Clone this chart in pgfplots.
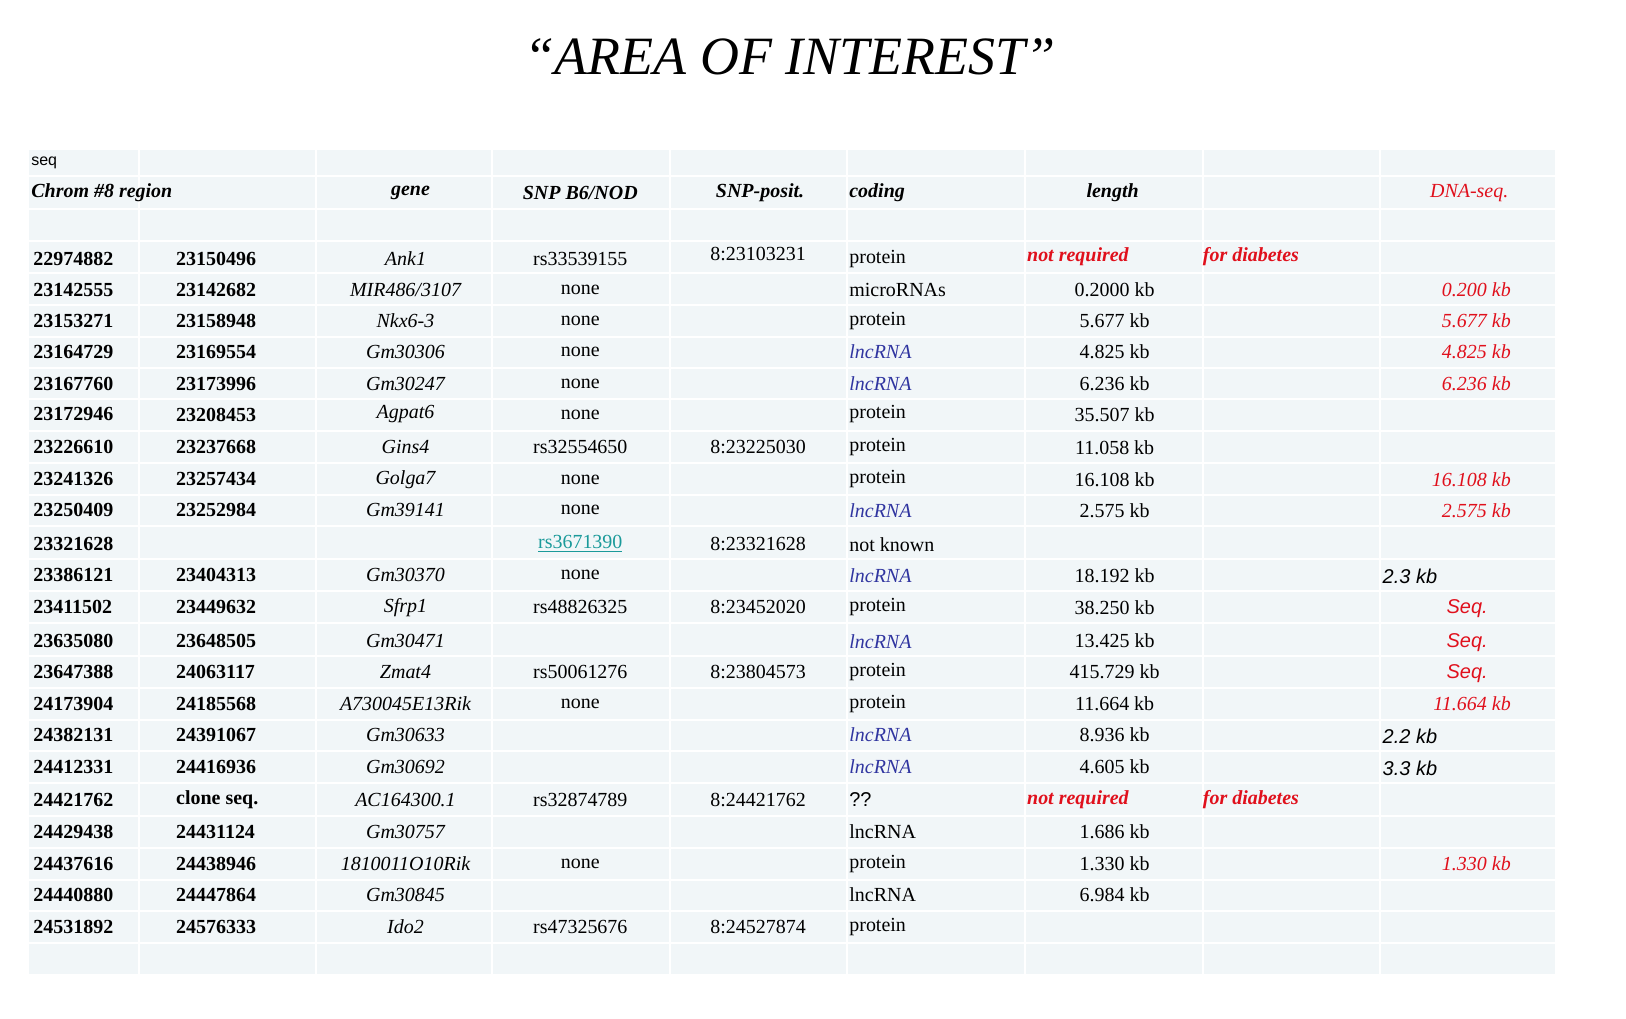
\documentclass[border=0pt]{standalone}
\usepackage{pgfplots}
\pgfplotsset{compat=1.18}
\usepackage{fontspec}
\setmainfont{Liberation Serif}
\newfontfamily\sans{Liberation Sans}
\definecolor{cell}{HTML}{F1F6F8}
\definecolor{rd}{HTML}{E0101C}
\definecolor{bl}{HTML}{3035A0}
\definecolor{tl}{HTML}{1A9A9A}
\newcommand{\T}[3]{\node[anchor=#1,inner sep=0pt] at (axis cs:#2) {#3};}
\newcommand{\C}[2]{\fill[cell] (axis cs:#1,{1020-150}) rectangle (axis cs:#2,{1020-975});}
\newcommand{\row}[9]{%
\T{west}{32,{1020-#1}}{\bfseries #2}
\T{west}{175,{1020-#1}}{\bfseries #3}
\T{center}{405,{1020-#1}}{\itshape #4}
\T{center}{580,{1020-#1}}{#5}
\T{center}{758,{1020-#1}}{#6}
\T{west}{849,{1020-#1}}{#7}
\T{center}{1115,{1020-#1}}{#8}
\T{east}{1512,{1020-#1}}{\itshape\color{rd}#9}
}
\begin{document}
\begin{tikzpicture}
\begin{axis}[scale only axis,width=813pt,height=510pt,xmin=0,xmax=1626,ymin=0,ymax=1020,hide axis,clip=false,
  every node/.append style={font=\fontsize{12}{14}\selectfont}]
\addplot[draw=none] coordinates {(0,0) (1626,1020)};
\C{28}{137}\C{139}{314}\C{316}{491}\C{493}{669}\C{671}{846}\C{848}{1024}\C{1026}{1202}\C{1204}{1380}\C{1382}{1556}
\pgfplotsinvokeforeach{176,209,241,273,305,337,368,400,432,464,496,527,560,592,624,657,689,721,752,784,817,849,881,912,944}{
 \draw[white,line width=1pt] (axis cs:0,{1020-#1}) -- (axis cs:1626,{1020-#1});
}
\node[font=\fontsize{27}{30}\selectfont] at (axis cs:790,{1020-57}) {\itshape “AREA OF INTEREST”};
\T{west}{30,{1020-163}}{\sans\fontsize{8}{9}\selectfont seq}
\T{west}{30,{1020-193}}{\bfseries\itshape Chrom \#8 region}
\T{center}{410,{1020-193}}{\bfseries\itshape gene}
\T{center}{580,{1020-193}}{\bfseries\itshape SNP B6/NOD}
\T{center}{760,{1020-193}}{\bfseries\itshape SNP-posit.}
\T{west}{849,{1020-193}}{\bfseries\itshape coding}
\T{center}{1113,{1020-193}}{\bfseries\itshape length}
\T{center}{1470,{1020-193}}{\itshape\color{rd}DNA-seq.}
\row{259}{22974882}{23150496}{Ank1}{rs33539155}{}{protein}{}{}
\T{center}{758,{1020-254}}{8:23103231}
\T{west}{1027,{1020-257}}{\bfseries\itshape\color{rd}not required}
\T{west}{1203,{1020-257}}{\bfseries\itshape\color{rd}for diabetes}
\row{290}{23142555}{23142682}{MIR486/3107}{none}{}{microRNAs}{0.2000 kb}{0.200 kb}
\row{321}{23153271}{23158948}{Nkx6-3}{none}{}{protein}{5.677 kb}{5.677 kb}
\row{352}{23164729}{23169554}{Gm30306}{none}{}{\itshape\color{bl}lncRNA}{4.825 kb}{4.825 kb}
\row{384}{23167760}{23173996}{Gm30247}{none}{}{\itshape\color{bl}lncRNA}{6.236 kb}{6.236 kb}
\row{415}{23172946}{23208453}{Agpat6}{none}{}{protein}{35.507 kb}{}
\row{448}{23226610}{23237668}{Gins4}{rs32554650}{8:23225030}{protein}{11.058 kb}{}
\row{480}{23241326}{23257434}{Golga7}{none}{}{protein}{16.108 kb}{16.108 kb}
\row{511}{23250409}{23252984}{Gm39141}{none}{}{\itshape\color{bl}lncRNA}{2.575 kb}{2.575 kb}
\row{545}{23321628}{}{}{\color{tl}\underline{rs3671390}}{8:23321628}{not known}{}{}
\row{576}{23386121}{23404313}{Gm30370}{none}{}{\itshape\color{bl}lncRNA}{18.192 kb}{}
\T{west}{1383,{1020-577}}{\sans\itshape 2.3 kb}
\row{608}{23411502}{23449632}{Sfrp1}{rs48826325}{8:23452020}{protein}{38.250 kb}{}
\T{center}{1468,{1020-609}}{\sans\itshape\color{rd}Seq.}
\row{642}{23635080}{23648505}{Gm30471}{}{}{\itshape\color{bl}lncRNA}{13.425 kb}{}
\T{center}{1468,{1020-643}}{\sans\itshape\color{rd}Seq.}
\row{673}{23647388}{24063117}{Zmat4}{rs50061276}{8:23804573}{protein}{415.729 kb}{}
\T{center}{1468,{1020-674}}{\sans\itshape\color{rd}Seq.}
\row{705}{24173904}{24185568}{A730045E13Rik}{none}{}{protein}{11.664 kb}{11.664 kb}
\row{736}{24382131}{24391067}{Gm30633}{}{}{\itshape\color{bl}lncRNA}{8.936 kb}{}
\T{west}{1383,{1020-737}}{\sans\itshape 2.2 kb}
\row{768}{24412331}{24416936}{Gm30692}{}{}{\itshape\color{bl}lncRNA}{4.605 kb}{}
\T{west}{1383,{1020-769}}{\sans\itshape 3.3 kb}
\row{801}{24421762}{clone seq.}{AC164300.1}{rs32874789}{8:24421762}{\sans ??}{}{}
\T{west}{1027,{1020-801}}{\bfseries\itshape\color{rd}not required}
\T{west}{1203,{1020-801}}{\bfseries\itshape\color{rd}for diabetes}
\row{833}{24429438}{24431124}{Gm30757}{}{}{lncRNA}{1.686 kb}{}
\row{865}{24437616}{24438946}{1810011O10Rik}{none}{}{protein}{1.330 kb}{1.330 kb}
\row{896}{24440880}{24447864}{Gm30845}{}{}{lncRNA}{6.984 kb}{}
\row{928}{24531892}{24576333}{Ido2}{rs47325676}{8:24527874}{protein}{}{}
\end{axis}
\end{tikzpicture}
\end{document}
